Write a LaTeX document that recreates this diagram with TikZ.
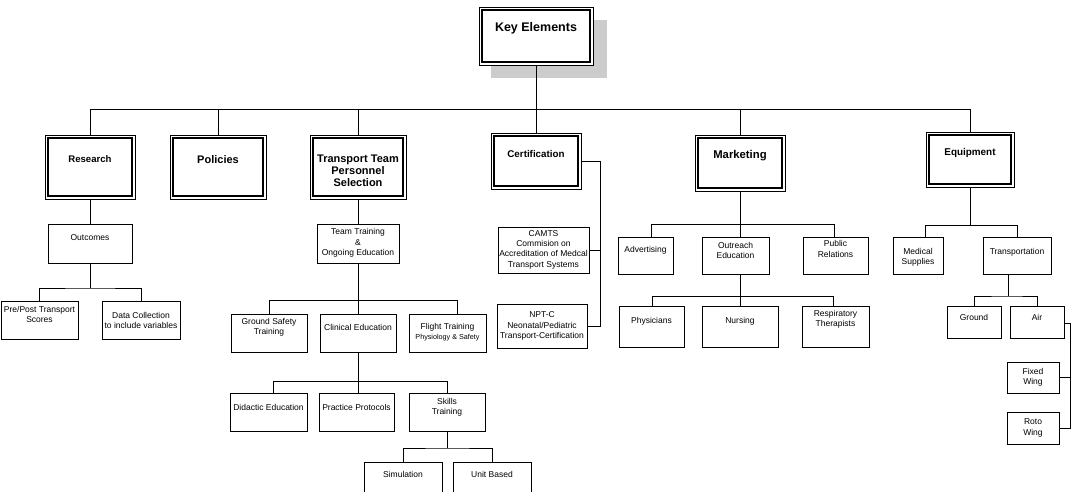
\documentclass[tikz,border=0pt]{standalone}
\usepackage{fontspec}
\setmainfont{Liberation Sans}
\usetikzlibrary{calc}
\newcommand\sbx[7]{%
  \node[sbox, minimum width={(#4-#2)*1pt}, minimum height={(#5-#3)*1pt}] (#1) at ({(#2+#4)/2},{(#3+#5)/2}) {};
  \node[stxt] (#1t) at ({(#2+#4)/2},#6) {#7};}
\newcommand\dbx[8]{%
  \node[dbox, minimum width={(#4-#2)*1pt}, minimum height={(#5-#3)*1pt}] (#1) at ({(#2+#4)/2},{(#3+#5)/2}) {};
  \draw[inl] ($(#1.north west)+(3,3)$) rectangle ($(#1.south east)+(-3,-3)$);
  \node[btxt, font=\bfseries\fontsize{#7}{12}\selectfont] (#1t) at ({(#2+#4)/2},#6) {#8};}
\begin{document}
\begin{tikzpicture}[x=1pt,y=-1pt,
  conn/.style={line width=0.9pt},
  sbox/.style={draw, line width=0.8pt, inner sep=0pt, outer sep=0pt},
  dbox/.style={draw, line width=0.7pt, fill=white, inner sep=0pt, outer sep=0pt},
  inl/.style={line width=1.1pt},
  stxt/.style={font=\fontsize{8.5}{10.3}\selectfont, align=center, inner sep=0pt},
  btxt/.style={align=center, inner sep=0pt}]
\useasboundingbox (0,0) rectangle (1072,491);
\clip (0,0) rectangle (1072,491);
% shadow + key box
\fill[black!20] (491,20) rectangle (607,78);
\dbx{key}{479}{7}{593}{65}{28}{12.5}{Key Elements}
% level 2
\dbx{res}{45}{135}{135}{199}{159}{9.6}{Research}
\dbx{pol}{170}{135}{266}{199}{160}{11}{Policies}
\dbx{tts}{310}{135}{406}{199}{170.5}{11}{Transport Team\\Personnel\\Selection}
\dbx{cer}{491}{133}{581}{189}{154}{9.8}{Certification}
\dbx{mkt}{695}{135}{785}{191}{156}{11.3}{Marketing}
\dbx{eqp}{926}{132}{1014}{187}{153}{9.9}{Equipment}
% main bus
\coordinate (busL) at (90,109);
\coordinate (busR) at (970,109);
\draw[conn] (busL) -- (busR);
\draw[conn] (key.south) -- (cer.north);
\draw[conn] (res.north) -- (res.north |- busL);
\draw[conn] (pol.north) -- (pol.north |- busL);
\draw[conn] (tts.north) -- (tts.north |- busL);
\draw[conn] (mkt.north) -- (mkt.north |- busL);
\draw[conn] (eqp.north) -- (eqp.north |- busL);
% research branch
\sbx{out}{48}{224}{132}{263}{238}{Outcomes}
\sbx{pre}{1}{301}{78}{339}{314.5}{Pre/Post Transport\\Scores}
\sbx{dat}{102}{301}{180}{339}{320.5}{Data Collection\\to include variables}
\draw[conn] (res.south) -- (out.north);
\coordinate (ob) at (90,288);
\draw[conn] (out.south) -- (ob);
\draw[conn] (pre.north) |- (ob) -| (dat.north);
% transport team branch
\sbx{ttr}{317}{224}{399}{263}{243}{Team Training\\\&\\Ongoing Education}
\draw[conn] (tts.south) -- (ttr.north);
\sbx{gst}{231}{314}{307}{352}{327.5}{Ground Safety\\Training}
\sbx{cli}{320}{314}{396}{352}{327}{Clinical Education}
\sbx{fli}{409}{314}{486}{352}{327}{Flight Training}
\node[stxt, font=\fontsize{7.2}{8}\selectfont] (flis) at (447.5,337.5) {Physiology \& Safety};
\coordinate (tb) at (358,300);
\coordinate (tbR) at (457,300);
\draw[conn] (ttr.south) -- (tb);
\draw[conn] (gst.north) |- (tbR) -- (tbR |- fli.north);
\draw[conn] (tb) -- (cli.north);
\sbx{did}{230}{393}{307}{431}{407}{Didactic Education}
\sbx{pra}{319}{393}{394}{431}{407}{Practice Protocols}
\sbx{ski}{409}{393}{485}{431}{407}{Skills\\Training}
\coordinate (cb) at (358,381);
\coordinate (cbL) at (273,381);
\draw[conn] (cli.south) -- (cb);
\draw[conn] (cbL |- did.north) -- (cbL) -| (ski.north);
\draw[conn] (cb) -- (cb |- pra.north);
\sbx{sim}{364}{462}{442}{505}{474}{Simulation}
\sbx{uni}{453}{462}{531}{505}{474}{Unit Based}
\coordinate (sb) at (447,448);
\draw[conn] (ski.south) -- (sb);
\draw[conn] (sim.north) |- (sb) -| (uni.north);
% certification branch
\sbx{cam}{498}{227}{589}{273}{249.5}{CAMTS\\Commision on\\Accreditation of Medcal\\Transport Systems}
\sbx{npt}{497}{304}{587}{348}{326}{NPT-C\\Neonatal/Pediatric\\Transport-Certification}
\coordinate (cv) at (600,161);
\draw[conn] (cer.east |- cv) -- (cv) |- (npt.east);
\draw[conn] (cam.east) -- (cam.east -| cv);
% marketing branch
\sbx{adv}{618}{237}{673}{274}{250}{Advertising}
\sbx{ore}{702}{237}{769}{274}{250.5}{Outreach\\Education}
\sbx{pub}{803}{237}{868}{274}{249}{Public\\Relations}
\coordinate (mb) at (740,224);
\coordinate (mbL) at (651,224);
\coordinate (mbR) at (834,224);
\draw[conn] (mkt.south) -- (mb);
\draw[conn] (mbL |- adv.north) -- (mbL) -- (mbR) -- (mbR |- pub.north);
\draw[conn] (mb) -- (mb |- ore.north);
\sbx{phy}{619}{306}{684}{347}{321}{Physicians}
\sbx{nur}{702}{306}{778}{347}{321}{Nursing}
\sbx{rsp}{802}{306}{869}{347}{319.5}{Respiratory\\Therapists}
\coordinate (ob2) at (740,296);
\coordinate (ob2L) at (652,296);
\coordinate (ob2R) at (833,296);
\draw[conn] (mb |- ore.south) -- (ob2);
\draw[conn] (ob2L |- phy.north) -- (ob2L) -- (ob2R) -- (ob2R |- rsp.north);
\draw[conn] (ob2) -- (ob2 |- nur.north);
% equipment branch
\sbx{med}{893}{237}{943}{274}{257}{Medical\\Supplies}
\sbx{tra}{983}{237}{1051}{274}{252}{Transportation}
\coordinate (eb) at (970,225);
\coordinate (ebL) at (925,225);
\coordinate (ebR) at (1017,225);
\draw[conn] (eqp.south) -- (eb);
\draw[conn] (ebL |- med.north) -- (ebL) -- (ebR) -- (ebR |- tra.north);
\sbx{gro}{947}{306}{1001}{338}{317}{Ground}
\sbx{air}{1010}{306}{1064}{338}{317}{Air}
\coordinate (trb) at (1008,296);
\draw[conn] (trb |- tra.south) -- (trb);
\draw[conn] (gro.north) |- (trb) -| (air.north);
\sbx{fix}{1007}{362}{1059}{393}{377.5}{Fixed\\Wing}
\sbx{rot}{1007}{412}{1059}{444}{428}{Roto\\Wing}
\coordinate (av) at (1070,323);
\draw[conn] (air.east |- av) -- (av) |- (rot.east);
\draw[conn] (fix.east) -- (fix.east -| av);
\end{tikzpicture}
\end{document}
